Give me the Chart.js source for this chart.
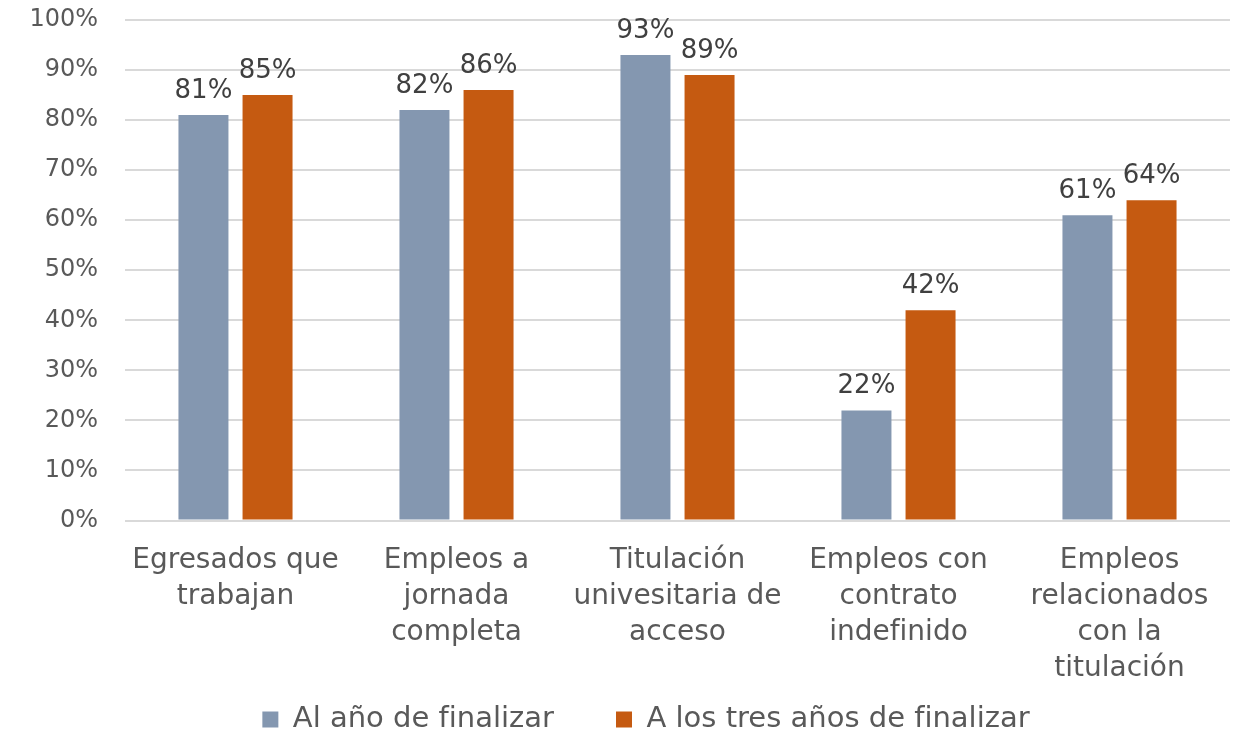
<!DOCTYPE html>
<html lang="es">
<head>
<meta charset="utf-8">
<title>Egresados</title>
<script src="https://cdn.jsdelivr.net/npm/chart.js@4/dist/chart.umd.min.js"></script>
<style>
  html, body { margin: 0; padding: 0; background: #fff; }
  #wrap { width: 1234px; height: 732px; position: relative; }
</style>
</head>
<body>
<div id="wrap"><canvas id="chart"></canvas></div>
<script>
/* ---- DATA ---- */
const categories = [
  ['Egresados que', 'trabajan'],
  ['Empleos a', 'jornada', 'completa'],
  ['Titulación', 'univesitaria de', 'acceso'],
  ['Empleos con', 'contrato', 'indefinido'],
  ['Empleos', 'relacionados', 'con la', 'titulación']
];
const seriesNames = ['Al año de finalizar', 'A los tres años de finalizar'];
const alAnio = [81, 82, 93, 22, 61];
const tresAnios = [85, 86, 89, 42, 64];
const yTicks = [0, 10, 20, 30, 40, 50, 60, 70, 80, 90, 100];

const FONT = 'DejaVu Sans, Verdana, sans-serif';

// value labels above each bar
const barLabels = {
  id: 'barLabels',
  afterDatasetsDraw(chart) {
    const ctx = chart.ctx;
    ctx.save();
    ctx.font = '26px ' + FONT;
    ctx.fillStyle = '#404040';
    ctx.textAlign = 'center';
    ctx.textBaseline = 'alphabetic';
    chart.data.datasets.forEach((ds, i) => {
      chart.getDatasetMeta(i).data.forEach((bar, j) => {
        ctx.fillText(ds.data[j] + '%', bar.x, bar.y - 17);
      });
    });
    ctx.restore();
  }
};

// the original legend row sits a bit right of the page centre
const legendShift = {
  id: 'legendShift',
  afterLayout(chart) {
    if (chart.legend) chart.legend.left += 58;
  }
};

new Chart(document.getElementById('chart'), {
  type: 'bar',
  data: {
    labels: categories,
    datasets: [
      { label: seriesNames[0], data: alAnio, backgroundColor: '#8497b0' },
      { label: seriesNames[1], data: tresAnios, backgroundColor: '#c55a11' }
    ]
  },
  options: {
    responsive: true,
    maintainAspectRatio: false,
    animation: false,
    layout: { padding: { top: 0, right: 4, left: 4, bottom: -12 } },
    datasets: {
      bar: { categoryPercentage: 0.58, barPercentage: 0.78 }
    },
    plugins: {
      legend: {
        position: 'bottom',
        labels: {
          font: { family: FONT, size: 29 },
          color: '#595959',
          boxWidth: 16,
          boxHeight: 16,
          padding: 4,
          // trailing em spaces keep the two entries apart like the original
          generateLabels: chart => Chart.defaults.plugins.legend.labels.generateLabels(chart)
            .map((item, i) => Object.assign(item, { text: i === 0 ? item.text + '\u2003\u2003' : item.text }))
        }
      },
      tooltip: { enabled: false }
    },
    scales: {
      x: {
        grid: { display: false },
        border: { display: false },
        ticks: {
          font: { family: FONT, size: 28, lineHeight: 1.29 },
          color: '#595959',
          padding: 14,
          maxRotation: 0,
          autoSkip: false
        }
      },
      y: {
        min: 0,
        max: 100,
        afterBuildTicks: axis => { axis.ticks = yTicks.map(v => ({ value: v })); },
        afterFit: axis => {
          axis.width = 121;
          axis.paddingTop = 20;
          axis.paddingBottom = 15;
        },
        grid: { color: '#d9d9d9', lineWidth: 2, drawTicks: false },
        border: { display: false },
        ticks: {
          font: { family: FONT, size: 24 },
          color: '#595959',
          padding: 27,
          callback: v => v + '%'
        }
      }
    }
  },
  plugins: [barLabels, legendShift]
});
</script>
</body>
</html>
